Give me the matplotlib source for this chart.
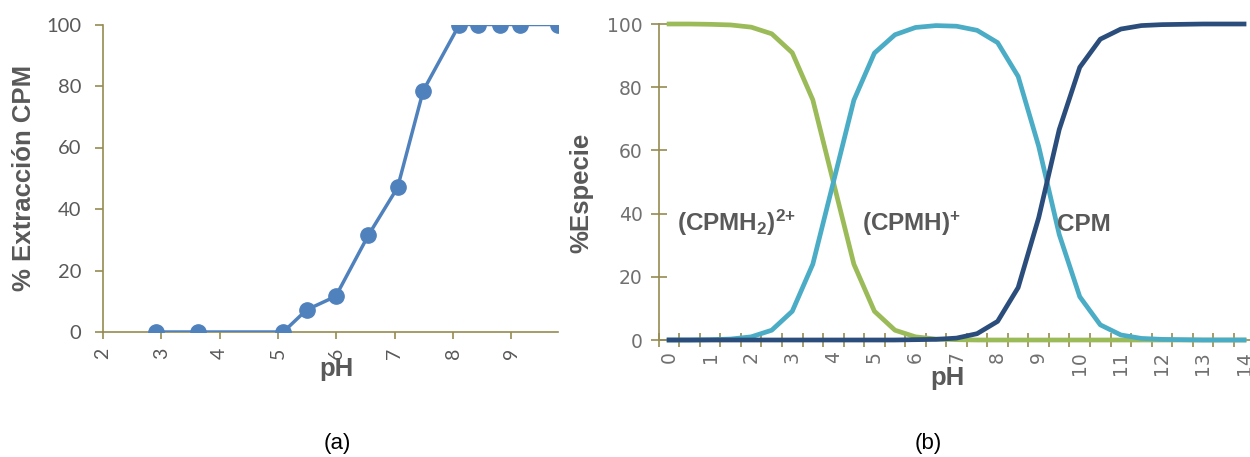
import numpy as np
import matplotlib
matplotlib.use("Agg")
import matplotlib.pyplot as plt
from matplotlib.ticker import FixedLocator

plt.rcParams['font.family'] = ['Liberation Sans', 'DejaVu Sans']
plt.rcParams['mathtext.fontset'] = 'custom'
plt.rcParams['mathtext.rm'] = 'Liberation Sans:bold'
plt.rcParams['mathtext.bf'] = 'Liberation Sans:bold'
plt.rcParams['mathtext.it'] = 'Liberation Sans:bold'

# (a) extraction vs pH
ph_a = [2.91, 3.62, 5.09, 5.49, 5.99, 6.55, 7.05, 7.49, 8.11, 8.43, 8.80, 9.14, 9.80]
extr = [0, 0, 0, 7.2, 11.6, 31.5, 47.0, 78.5, 100, 100, 100, 100, 100]

# (b) species distribution
ph_b = [0, 0.5, 1, 1.5, 2, 2.5, 3, 3.5, 4, 4.5, 5, 5.5, 6, 6.5, 7,
        7.5, 8, 8.5, 9, 9.5, 10, 10.5, 11, 11.5, 12, 12.5, 13, 13.5, 14]
cpmh2 = [100, 100, 99.9, 99.7, 99.0, 96.9, 90.9, 76.0, 50.0, 24.0, 9.1, 3.1, 1.0, 0.3, 0.1,
         0, 0, 0, 0, 0, 0, 0, 0, 0, 0, 0, 0, 0, 0]
cpmh = [0, 0, 0.1, 0.3, 1.0, 3.1, 9.1, 24.0, 49.9, 75.9, 90.8, 96.6, 98.9, 99.5, 99.3,
        98.0, 94.1, 83.4, 61.3, 33.4, 13.7, 4.8, 1.6, 0.5, 0.2, 0.1, 0, 0, 0]
cpm = [0, 0, 0, 0, 0, 0, 0, 0, 0, 0, 0, 0, 0.1, 0.2, 0.6,
       2.0, 5.9, 16.6, 38.7, 66.6, 86.3, 95.2, 98.4, 99.5, 99.8, 99.9, 100, 100, 100]

W, H = 1250, 457
axcol = '#968B52'
txtcol = '#595959'

fig = plt.figure(figsize=(12.5, 4.57), dpi=100)

def px(x, y):
    return x / W, 1 - y / H

# left panel
ax1 = fig.add_axes([103 / W, 1 - 332 / H, (558 - 103) / W, (332 - 24.5) / H])
ax1.plot(ph_a, extr, '-o', color='#4F81BD', lw=2.5, ms=11, mec='#4F81BD', mfc='#4F81BD',
         zorder=3)
ax1.set_xlim(2, 9.8)
ax1.set_ylim(0, 100)
ax1.set_xticks(range(2, 10))
ax1.set_yticks(range(0, 101, 20))
for s in ['top', 'right']:
    ax1.spines[s].set_visible(False)
for s in ['left', 'bottom']:
    ax1.spines[s].set_color(axcol)
    ax1.spines[s].set_linewidth(1.2)
ax1.tick_params(axis='y', direction='out', length=5.5, width=1.2, color=axcol,
                labelcolor=txtcol, labelsize=14.5, pad=10)
ax1.tick_params(axis='x', direction='out', length=5, width=1.2, color=axcol,
                labelcolor=txtcol, labelsize=14, pad=6, labelrotation=90)
for lab in ax1.get_xticklabels() + ax1.get_yticklabels():
    lab.set_family('Lato')

# right panel
ax2 = fig.add_axes([658.8 / W, 1 - 340 / H, (1254.3 - 658.8) / W, (340 - 24) / H])
ax2.plot(ph_b, cpmh2, color='#9BBB59', lw=3.4, clip_on=False, zorder=3)
ax2.plot(ph_b, cpmh, color='#4BACC6', lw=3.4, clip_on=False, zorder=3)
ax2.plot(ph_b, cpm, color='#2B4D7C', lw=3.4, clip_on=False, zorder=3)
ax2.set_xlim(-0.25, 14.25)
ax2.set_ylim(0, 100)
ax2.set_xticks(range(0, 15))
ax2.xaxis.set_minor_locator(FixedLocator(np.arange(-0.25, 14.3, 0.5)))
ax2.set_yticks(range(0, 101, 20))
for s in ['top', 'right']:
    ax2.spines[s].set_visible(False)
for s in ['left', 'bottom']:
    ax2.spines[s].set_color(axcol)
    ax2.spines[s].set_linewidth(1.2)
ax2.tick_params(axis='x', which='major', length=0, labelcolor='#707070',
                labelsize=13.5, pad=8, labelrotation=90)
ax2.tick_params(axis='x', which='minor', direction='inout', length=10, width=1.2, color=axcol)
ax2.tick_params(axis='y', direction='inout', length=11, width=1.2, color=axcol,
                labelcolor='#707070', labelsize=13.5, pad=6)
for lab in ax2.get_xticklabels() + ax2.get_yticklabels():
    lab.set_family('DejaVu Sans')

# axis titles
fig.text(*px(24, 178), '% Extracción CPM', rotation=90, ha='center', va='center',
         fontsize=18.5, fontweight='bold', color=txtcol)
fig.text(*px(581.5, 193), '%Especie', rotation=90, ha='center', va='center',
         fontsize=18.5, fontweight='bold', color=txtcol)
fig.text(*px(336, 376), 'pH', ha='center', va='baseline',
         fontsize=18.5, fontweight='bold', color=txtcol)
fig.text(*px(947, 385), 'pH', ha='center', va='baseline',
         fontsize=18.5, fontweight='bold', color=txtcol)

# species labels
fig.text(*px(677, 231), r'(CPMH$_2$)$^{2{+}}$', ha='left', va='baseline',
         fontsize=17.5, fontweight='bold', color=txtcol)
fig.text(*px(862, 231), r'(CPMH)$^{+}$', ha='left', va='baseline',
         fontsize=17.5, fontweight='bold', color=txtcol)
fig.text(*px(1057, 231), 'CPM', ha='left', va='baseline',
         fontsize=17.5, fontweight='bold', color=txtcol)

# panel captions
fig.text(*px(337, 443), '(a)', ha='center', va='center', fontsize=16, color='black')
fig.text(*px(928, 443), '(b)', ha='center', va='center', fontsize=16, color='black')

plt.savefig('out.png', dpi=100)
